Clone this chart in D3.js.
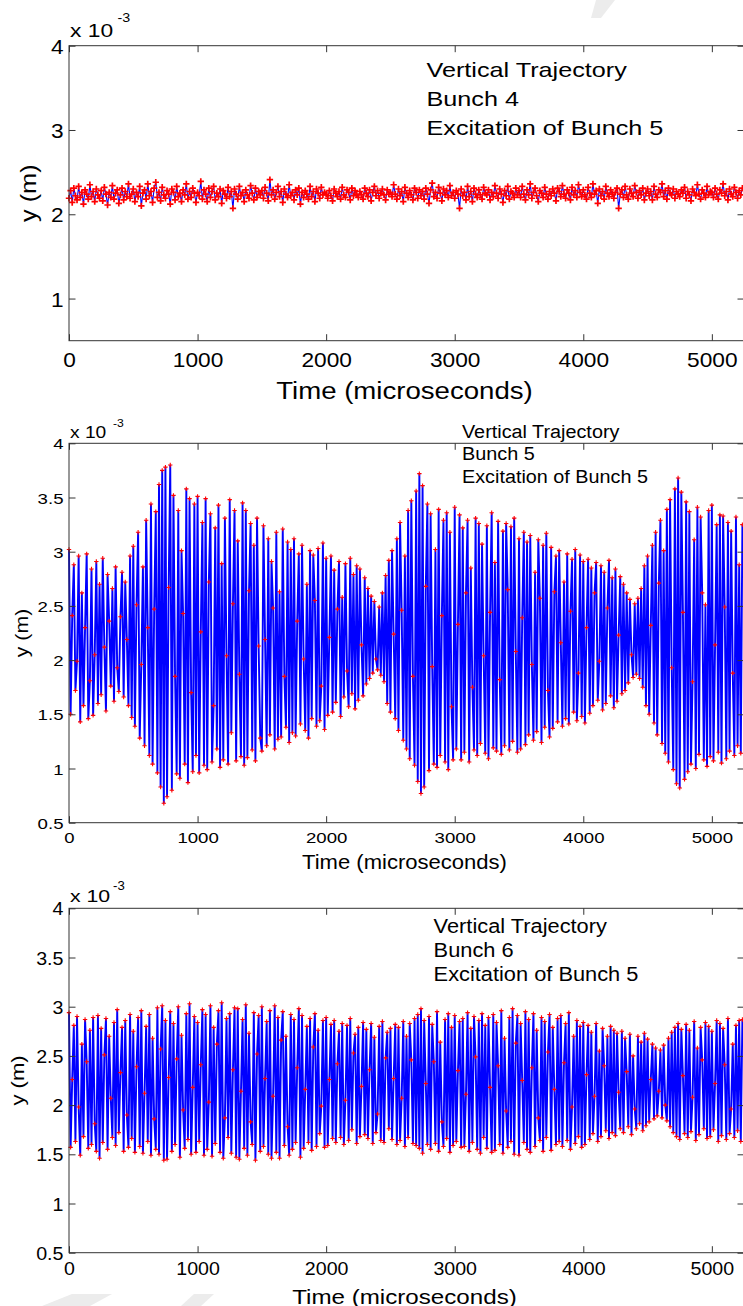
<!DOCTYPE html>
<html>
<head>
<meta charset="utf-8">
<script src="https://cdn.jsdelivr.net/npm/d3@7"></script>
<style>
  html, body { margin: 0; padding: 0; background: #fff; }
  svg { display: block; }
  text { font-family: "Liberation Sans", Arial, Helvetica, sans-serif; fill: #000; }
</style>
</head>
<body>
<svg id="chart" width="743" height="1306"></svg>
<script>
// turn-by-turn samples, one every dtMicro microseconds
const dtMicro = 12.5;
const xTicks = [0, 1000, 2000, 3000, 4000, 5000];
const yTicksWhole = [1, 2, 3, 4];
const yTicksHalf = [0.5, 1, 1.5, 2, 2.5, 3, 3.5, 4];
const xLabel = "Time (microseconds)";
const yLabel = "y (m)";
const expBase = "x 10";
const expPower = "-3";

const notesBunch4 = ["Vertical Trajectory", "Bunch 4", "Excitation of Bunch 5"];
const notesBunch5 = ["Vertical Trajectory", "Bunch 5", "Excitation of Bunch 5"];
const notesBunch6 = ["Vertical Trajectory", "Bunch 6", "Excitation of Bunch 5"];

// vertical position, units of 1e-5 m (0.01 x 10^-3 m), one row = 250 us
const bunch4 = [
  219,228,214,231,222,217,233,220,226,212,229,224,218,235,221,227,215,230,223,219,
  228,216,232,224,211,226,220,234,218,225,229,213,223,231,217,227,221,236,219,224,
  230,215,226,221,233,210,225,229,218,236,222,227,214,231,238,220,226,216,232,223,
  219,228,224,212,230,226,217,233,221,225,215,229,223,236,218,227,220,231,225,214,
  226,222,239,218,229,224,215,231,220,227,233,217,225,221,230,213,228,224,219,232,
  221,227,207,230,224,218,233,222,226,215,229,223,219,234,225,217,231,220,227,223,
  228,219,232,225,216,241,223,229,218,226,233,221,227,214,230,224,220,235,222,226,
  217,229,223,231,212,226,220,228,224,218,233,221,227,215,230,225,219,232,223,226,
  224,219,228,222,216,230,225,221,227,218,232,223,220,229,226,217,231,222,228,224,
  220,227,223,218,231,225,221,229,216,226,233,222,228,219,225,230,223,217,229,224,
  226,221,235,224,218,230,222,227,215,232,225,220,228,223,217,231,226,219,229,222,
  227,218,231,224,213,229,237,221,226,219,232,225,216,230,223,228,220,234,222,226,
  219,228,224,207,230,222,226,217,233,221,227,215,231,224,220,229,223,218,232,225,
  223,229,217,226,221,234,225,219,230,224,214,228,222,233,218,227,225,220,231,223,
  228,220,233,224,217,229,223,236,219,226,231,222,215,228,225,220,232,224,218,227,
  222,230,225,216,231,227,221,234,224,219,229,225,217,232,223,228,220,235,226,221,
  229,223,218,232,225,220,236,224,228,213,230,222,227,218,233,225,221,229,224,219,
  226,231,207,224,229,220,233,223,218,230,225,221,234,226,219,228,223,231,217,225,
  230,222,227,217,233,224,220,229,226,236,221,228,218,231,225,223,230,219,227,224,
  221,229,225,232,219,227,223,216,230,226,222,235,224,218,229,225,220,233,223,227,
  226,220,231,224,218,229,225,236,222,227,217,230,224,221,232,226,219,228,223,231
];

const bunch5 = [
  302,150,241,288,172,199,296,143,262,158,230,298,146,181,284,149,205,291,160,270,
  168,294,212,153,279,236,176,266,162,286,193,171,240,281,166,272,219,158,296,147,
  305,139,251,318,128,196,286,121,329,230,112,344,104,247,337,96,362,83,375,68,
  378,74,267,380,80,352,185,95,338,91,301,243,104,358,87,349,170,97,344,112,
  351,96,226,327,103,349,99,272,335,106,158,322,118,343,101,289,108,331,204,104,
  348,133,252,338,107,310,187,111,345,103,338,110,264,326,117,306,107,331,213,128,
  116,324,219,121,312,131,291,248,118,318,127,263,129,321,185,138,309,124,302,133,
  312,130,236,298,141,306,201,135,270,128,301,146,297,255,139,303,144,176,308,136,
  294,149,221,296,152,283,161,247,291,148,258,166,289,190,157,294,169,279,155,287,
  163,284,214,167,276,178,266,183,259,188,254,201,191,249,186,262,180,278,160,292,
  152,301,224,146,312,135,327,246,126,296,118,338,109,347,185,103,356,88,372,77,
  361,83,268,344,98,335,194,104,302,101,339,112,241,329,106,336,99,318,157,108,
  341,118,233,334,108,322,115,262,329,106,285,175,117,331,112,326,123,307,204,114,
  324,109,244,336,119,290,116,328,182,113,319,121,326,265,117,323,125,331,208,115,
  312,118,239,318,122,309,131,315,196,126,281,134,311,257,124,306,138,317,172,129,
  304,137,263,296,143,301,216,139,272,146,298,141,245,293,152,302,144,188,297,148,
  291,142,230,293,151,285,158,262,290,163,199,287,154,281,160,248,292,167,276,156,
  284,162,223,277,169,270,172,262,179,256,205,184,252,187,257,183,266,175,287,158,
  296,150,232,306,142,318,131,271,329,123,301,114,339,106,348,193,99,358,86,368,
  82,355,244,90,346,97,337,104,180,311,100,341,113,332,262,108,251,102,338,111,
  343,107,214,325,115,334,105,333,249,109,327,116,319,188,112,332,121,288,114,325
];

const bunch6 = [
  294,157,226,281,163,290,198,149,262,168,287,244,156,276,160,289,181,153,291,146,
  278,162,251,288,155,270,207,167,284,159,297,172,233,279,153,286,190,157,292,166,
  275,152,239,289,158,296,151,212,280,163,292,149,268,186,155,299,150,257,301,144,
  286,145,228,295,153,283,160,247,300,147,271,195,156,293,165,303,150,218,290,152,
  284,163,241,297,149,292,155,203,301,148,279,161,262,296,152,304,146,187,288,167,
  293,151,236,299,147,298,145,214,287,156,302,149,273,183,160,294,144,252,291,153,
  300,158,227,285,150,296,146,209,301,152,289,146,266,295,159,270,178,149,292,155,
  287,162,238,298,147,291,156,216,280,162,288,154,259,293,158,276,171,199,286,157,
  289,159,226,282,166,286,162,242,275,167,283,160,205,281,164,288,175,253,272,161,
  279,168,219,284,170,277,166,236,283,161,269,172,191,280,164,285,162,248,274,176,
  278,165,227,282,160,279,164,207,285,158,270,167,283,246,161,288,159,292,156,298,
  151,286,222,160,290,155,282,244,161,295,153,264,183,158,287,166,293,152,279,159,
  291,163,235,285,157,288,158,211,294,153,278,162,290,249,155,286,151,293,167,281,
  156,289,218,152,292,154,284,240,160,296,151,268,194,157,289,163,298,150,263,291,
  149,283,225,162,295,155,287,152,238,293,158,276,187,164,289,153,285,167,254,292,
  154,279,216,160,288,163,291,158,243,283,164,294,155,198,270,161,286,168,280,157,
  284,160,231,281,165,274,171,209,283,163,255,168,278,240,174,270,166,280,172,276,
  169,273,213,176,275,172,268,234,178,272,170,250,196,176,270,181,264,174,273,179,
  267,183,226,262,186,258,189,214,256,187,261,200,184,268,178,274,172,279,168,283,
  165,277,230,171,282,167,276,173,208,285,164,258,170,279,246,176,284,166,280,168,
  275,175,222,286,163,283,169,278,241,165,288,171,196,262,167,281,174,286,163,287
];

const svg = d3.select("#chart");
const plotLeft = 69, plotRight = 744;
const tickLen = 6.5;
const axisColor = "#333";

// squeeze/stretch text horizontally to match the wide bitmap font of the original
const stretch = (sel, k) => {
  sel.each(function () {
    const w = this.getComputedTextLength();
    if (w > 0) {
      this.setAttribute("textLength", (w * k).toFixed(1));
      this.setAttribute("lengthAdjust", "spacingAndGlyphs");
    }
  });
};

// watermark fragments of the scanned page
const ghost = [
  [[596, 0], [615, 0], [601, 18], [591, 18]],
  [[72, 1294], [112, 1294], [90, 1306], [42, 1306]],
  [[194, 1294], [214, 1294], [201, 1306], [181, 1306]]
];
svg.selectAll("polygon.ghost").data(ghost).join("polygon")
  .attr("class", "ghost")
  .attr("points", d => d.map(p => p.join(",")).join(" "))
  .attr("fill", "#ececec");

const panels = [
  { data: bunch4, notes: notesBunch4, yTicks: yTicksWhole, top: 45.7, bottom: 340.7,
    lineW: 1.1, mark: 3.2, markW: 1.7,
    tickFont: 21, tickK: 1.08, tickBase: 366.7,
    labFont: 23, labK: 1.2, labBase: 399.3,
    yLabFont: 22, yLabK: 1.15, yLabX: 35.5,
    noteX: 426.5, noteY: 76.7, noteDy: 29.2, noteFont: 21, noteK: 1.2,
    expFont: 19, expK: 1.2, expBaseY: 37.3, powFont: 13, powX: 117.5, powY: 21.5 },
  { data: bunch5, notes: notesBunch5, yTicks: yTicksHalf, top: 443.3, bottom: 822.7,
    lineW: 1.9, mark: 2.2, markW: 1.1,
    tickFont: 15.5, tickK: 1.2, tickBase: 842.7,
    labFont: 19.5, labK: 1.13, labBase: 869,
    yLabFont: 18, yLabK: 1.18, yLabX: 27.5,
    noteX: 462, noteY: 438, noteDy: 22.4, noteFont: 18, noteK: 1.1,
    expFont: 16, expK: 1.2, expBaseY: 438.3, powFont: 11, powX: 113, powY: 427 },
  { data: bunch6, notes: notesBunch6, yTicks: yTicksHalf, top: 908.3, bottom: 1252.7,
    lineW: 1.9, mark: 2.2, markW: 1.1,
    tickFont: 18.5, tickK: 1.06, tickBase: 1275,
    labFont: 21, labK: 1.15, labBase: 1304,
    yLabFont: 19, yLabK: 1.16, yLabX: 23.5,
    noteX: 433.6, noteY: 932.7, noteDy: 24.3, noteFont: 20, noteK: 1.09,
    expFont: 17, expK: 1.25, expBaseY: 902.3, powFont: 12, powX: 113, powY: 890 }
];

panels.forEach(p => {
  const x = d3.scaleLinear().domain([0, 5250]).range([plotLeft, plotRight]);
  const y = d3.scaleLinear().domain([0.5, 4]).range([p.bottom, p.top]);
  const g = svg.append("g");
  const pts = p.data.map((v, i) => ({ t: i * dtMicro, v: v / 100 }));

  // trajectory line
  g.append("path")
    .datum(pts)
    .attr("fill", "none")
    .attr("stroke", "#0000ff")
    .attr("stroke-width", p.lineW)
    .attr("stroke-linejoin", "bevel")
    .attr("d", d3.line().x(d => x(d.t)).y(d => y(d.v)));

  // red + markers on every sample
  const m = p.mark;
  g.selectAll("path.mk").data(pts).join("path")
    .attr("class", "mk")
    .attr("fill", "none")
    .attr("stroke", "#ff0000")
    .attr("stroke-width", p.markW)
    .attr("d", d => `M${x(d.t) - m},${y(d.v)}h${2 * m}M${x(d.t)},${y(d.v) - m}v${2 * m}`);

  // box
  g.append("rect")
    .attr("x", plotLeft).attr("y", p.top)
    .attr("width", plotRight - plotLeft).attr("height", p.bottom - p.top)
    .attr("fill", "none").attr("stroke", axisColor).attr("stroke-width", 1);

  // inward ticks on all four sides
  const gx = g.append("g").attr("transform", `translate(0,${p.bottom})`)
    .call(d3.axisBottom(x).tickValues(xTicks).tickSizeInner(-tickLen).tickSizeOuter(0).tickFormat(d3.format("d")));
  const gxt = g.append("g").attr("transform", `translate(0,${p.top})`)
    .call(d3.axisTop(x).tickValues(xTicks).tickSizeInner(-tickLen).tickSizeOuter(0).tickFormat(""));
  const gy = g.append("g").attr("transform", `translate(${plotLeft},0)`)
    .call(d3.axisLeft(y).tickValues(p.yTicks).tickSizeInner(-tickLen).tickSizeOuter(0).tickFormat(d => String(d)));
  const gyr = g.append("g").attr("transform", `translate(${plotRight},0)`)
    .call(d3.axisRight(y).tickValues(p.yTicks).tickSizeInner(-tickLen).tickSizeOuter(0).tickFormat(""));

  [gx, gxt, gy, gyr].forEach(a => {
    a.attr("font-size", null).attr("font-family", null).attr("color", axisColor);
    a.select(".domain").remove();
  });

  gx.selectAll("text")
    .attr("y", p.tickBase - p.bottom).attr("dy", null)
    .attr("font-size", p.tickFont).style("fill", "#000")
    .call(stretch, p.tickK);
  gy.selectAll("text")
    .attr("x", -5.5).attr("dy", "0.36em")
    .attr("font-size", p.tickFont).style("fill", "#000")
    .call(stretch, p.tickK);

  // axis titles
  g.append("text")
    .attr("x", (plotLeft + plotRight) / 2 - 2).attr("y", p.labBase)
    .attr("text-anchor", "middle").attr("font-size", p.labFont)
    .text(xLabel).call(stretch, p.labK);
  g.append("text")
    .attr("transform", `translate(${p.yLabX},${(p.top + p.bottom) / 2}) rotate(-90)`)
    .attr("text-anchor", "middle").attr("font-size", p.yLabFont)
    .text(yLabel).call(stretch, p.yLabK);

  // exponent
  g.append("text")
    .attr("x", 70).attr("y", p.expBaseY).attr("font-size", p.expFont)
    .text(expBase).call(stretch, p.expK);
  g.append("text")
    .attr("x", p.powX).attr("y", p.powY).attr("font-size", p.powFont)
    .text(expPower).call(stretch, 1.1);

  // annotation
  g.selectAll("text.note").data(p.notes).join("text")
    .attr("class", "note")
    .attr("x", p.noteX).attr("y", (d, i) => p.noteY + i * p.noteDy)
    .attr("font-size", p.noteFont)
    .text(d => d)
    .call(stretch, p.noteK);
});
</script>
</body>
</html>
